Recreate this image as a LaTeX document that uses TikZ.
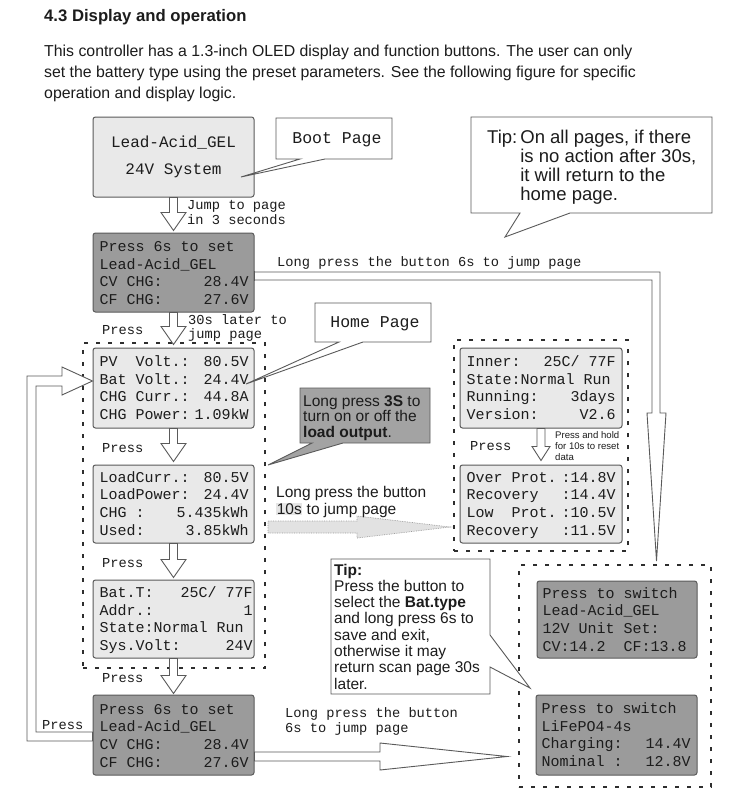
\documentclass[tikz,border=0pt]{standalone}
\usepackage{fontspec}
\setmainfont{Liberation Sans}
\newfontfamily\monof{Liberation Mono}
\usetikzlibrary{calc,fit}
\definecolor{lightbox}{HTML}{E9E9E9}
\definecolor{darkbox}{HTML}{9B9B9B}
\definecolor{tipbox}{HTML}{A3A3A3}
\definecolor{boxline}{HTML}{5A5A5A}
\definecolor{ink}{HTML}{1C1C1C}
\definecolor{dotline}{HTML}{2E2E2E}
\definecolor{grayfill}{HTML}{E2E2E2}
\definecolor{grayedge}{HTML}{9A9A9A}
\definecolor{hl}{HTML}{E6E6E6}
\newcommand\lcdrows[1]{\begin{tabular*}{149pt}[t]{@{}l@{\extracolsep{\fill}}r@{}}#1\end{tabular*}}
\newcommand\full[1]{\multicolumn{2}{@{}l@{}}{#1}}
\newcommand\txtlines[1]{\begin{tabular}[t]{@{}l@{}}#1\end{tabular}}
\begin{document}
\begin{tikzpicture}[x=1pt,y=-1pt,
  lcd/.style={draw=boxline, line width=1pt, rounded corners=2.5pt, inner sep=0pt},
  lcdtext/.style={anchor=base west, inner sep=0pt, text=ink, font=\monof\fontsize{15}{17.7}\selectfont},
  dotbox/.style={draw=dotline, line width=1.8pt, dash pattern=on 4pt off 8pt, inner sep=0pt},
  harrow/.style={draw=boxline, line width=0.9pt, fill=white, line join=miter},
  grayarrow/.style={draw=grayedge, line width=0.7pt, densely dotted, fill=grayfill},
  callout/.style={draw=boxline, line width=0.9pt, fill=white, line join=miter},
  darkcallout/.style={draw=boxline, line width=0.9pt, fill=tipbox, line join=miter},
  mlabel/.style={anchor=base west, inner sep=0pt, text=ink, font=\monof\fontsize{13.7}{14}\selectfont},
  slabel/.style={anchor=base west, inner sep=0pt, text=ink},
  blockarrow/.style n args={3}{to path={
    ($(\tikztostart)!#1!90:(\tikztotarget)$)
    -- ($($(\tikztotarget)!#3!(\tikztostart)$)!#1!-90:(\tikztostart)$)
    -- ($($(\tikztotarget)!#3!(\tikztostart)$)!#2!-90:(\tikztostart)$)
    -- (\tikztotarget)
    -- ($($(\tikztotarget)!#3!(\tikztostart)$)!#2!90:(\tikztostart)$)
    -- ($($(\tikztotarget)!#3!(\tikztostart)$)!#1!90:(\tikztostart)$)
    -- ($(\tikztostart)!#1!-90:(\tikztotarget)$)
    -- cycle}}
]
\useasboundingbox (0,0) rectangle (729,803);
\fill[white] (0,0) rectangle (729,803);

% heading and paragraph
\node[slabel, font=\bfseries\fontsize{16.7}{18}\selectfont] (head) at (44,21) {4.3 Display and operation};
\node[slabel, font=\fontsize{15.85}{21}\selectfont] (intro) at (44,56) {\txtlines{This controller has a 1.3-inch OLED display and function buttons. The user can only\\set the battery type using the preset parameters. See the following figure for specific\\operation and display logic.}};

% dotted groups
\node[dotbox, fit={(83,343)(265,668)}] (lbox) {};
\node[dotbox, fit={(454,340)(628,551)}] (rtbox) {};
\node[dotbox, fit={(519,565)(711,787)}] (rbbox) {};

% display boxes
\node[lcd, fill=lightbox, fit={(93,117)(254,197)}] (boot) {};
\node[lcd, fill=darkbox, fit={(93,233)(254,312)}] (set1) {};
\node[lcd, fill=lightbox, fit={(93,348)(254,428)}] (home) {};
\node[lcd, fill=lightbox, fit={(93,465)(254,543)}] (load) {};
\node[lcd, fill=lightbox, fit={(93,580)(254,658)}] (bat) {};
\node[lcd, fill=darkbox, fit={(93,695)(254,775)}] (set2) {};
\node[lcd, fill=lightbox, fit={(460,348)(622,428)}] (inner) {};
\node[lcd, fill=lightbox, fit={(460,465)(622,543)}] (prot) {};
\node[lcd, fill=darkbox, fit={(537,581)(697,658)}] (sw1) {};
\node[lcd, fill=darkbox, fit={(536,695)(697,775)}] (sw2) {};

\node[anchor=base, inner sep=0pt, text=ink, font=\monof\fontsize{16}{27}\selectfont] (boottxt) at ($(boot.north)+(0,31)$) {\begin{tabular}[t]{@{}c@{}}Lead-Acid\_GEL\\24V System\end{tabular}};
\node[lcdtext] (set1txt) at ($(set1.north west)+(7,19)$) {\lcdrows{\full{Press~6s~to~set}\\\full{Lead-Acid\_GEL}\\CV~CHG:&28.4V\\CF~CHG:&27.6V}};
\node[lcdtext] (hometxt) at ($(home.north west)+(7,19)$) {\lcdrows{PV~~Volt.:&80.5V\\Bat~Volt.:&24.4V\\CHG~Curr.:&44.8A\\CHG~Power:&1.09kW}};
\node[lcdtext] (loadtxt) at ($(load.north west)+(7,17.5)$) {\lcdrows{LoadCurr.:&80.5V\\LoadPower:&24.4V\\\full{CHG~:\hfill 5.435kWh}\\\full{Used:\hfill 3.85kWh}}};
\node[lcdtext] (battxt) at ($(bat.north west)+(7,18)$) {\lcdrows{Bat.T:&25C/~77F\\Addr.:&1\\\full{State:Normal~Run}\\Sys.Volt:&24V}};
\node[lcdtext] (set2txt) at ($(set2.north west)+(7,19.5)$) {\lcdrows{\full{Press~6s~to~set}\\\full{Lead-Acid\_GEL}\\CV~CHG:&28.4V\\CF~CHG:&27.6V}};
\node[lcdtext] (innertxt) at ($(inner.north west)+(7,19)$) {\lcdrows{Inner:&25C/~77F\\\full{State:Normal~Run}\\Running:&3days\\Version:&V2.6}};
\node[lcdtext] (prottxt) at ($(prot.north west)+(7,17.5)$) {\lcdrows{Over~Prot.&:14.8V\\Recovery&:14.4V\\Low~~Prot.&:10.5V\\Recovery&:11.5V}};
\node[lcdtext] (sw1txt) at ($(sw1.north west)+(6,17.5)$) {\lcdrows{\full{Press~to~switch}\\\full{Lead-Acid\_GEL}\\\full{12V~Unit~Set:}\\\full{CV:14.2~~CF:13.8}}};
\node[lcdtext] (sw2txt) at ($(sw2.north west)+(6,19)$) {\lcdrows{\full{Press~to~switch}\\\full{LiFePO4-4s}\\Charging:&14.4V\\Nominal~:&12.8V}};

% straight hollow arrows
\coordinate (a1e) at ($(set1.north)+(0,-2)$);
\coordinate (a2e) at ($(home.north)+(0,-3)$);
\coordinate (a3e) at ($(load.north)+(0,-3)$);
\coordinate (a4e) at ($(bat.north)+(0,-2)$);
\coordinate (a5e) at ($(set2.north)+(0,-1)$);
\coordinate (a6e) at ($(prot.north)+(0,-4)$);
\draw[harrow] (boot.south) to[blockarrow={4pt}{12.5pt}{18pt}] (a1e);
\draw[harrow] (set1.south) to[blockarrow={4pt}{12.5pt}{18pt}] (a2e);
\draw[harrow] (home.south) to[blockarrow={4pt}{12.5pt}{18pt}] (a3e);
\draw[harrow] (load.south) to[blockarrow={4pt}{12.5pt}{18pt}] (a4e);
\draw[harrow] (bat.south) to[blockarrow={4pt}{12.5pt}{18pt}] (a5e);
\draw[harrow] (inner.south) to[blockarrow={4pt}{9pt}{14pt}] (a6e);

% gray dotted arrow (10 s)
\coordinate (g1) at (268,527);
\coordinate (g2) at (450,527);
\draw[grayarrow] (g1) to[blockarrow={6pt}{11pt}{93pt}] (g2);

% bottom arrow
\coordinate (b1) at (set2.east |- 0,756.5);
\coordinate (b2) at (507,756.5);
\draw[harrow] (b1) to[blockarrow={4.5pt}{13.5pt}{127pt}] (b2);

% long bent arrow top right
\draw[harrow] (set1.east |- 0,280) -- (set1.east |- 0,272) -- (660,272) -- (660,413) -- (666,413) -- (656.5,561) -- (647,413) -- (652,413) -- (652,280) -- cycle;
\draw[boxline, line width=1.2pt] (set1.east |- 0,271) -- (set1.east |- 0,281);

% left loop arrow
\draw[harrow] (set2.west |- 0,732) -- (36,732) -- (36,386) -- (62,386) -- (62,395) -- (home.west |- 0,381) -- (62,367) -- (62,376) -- (27,376) -- (27,741) -- (set2.west |- 0,741) -- cycle;

% callouts
\draw[callout] (276,118) -- (392,118) -- (392,159) -- (325,159) -- (241,177) -- (300,159) -- (276,159) -- cycle;
\node[anchor=base, inner sep=0pt, text=ink, font=\monof\fontsize{16.5}{18}\selectfont] (bootlbl) at (337,143) {Boot Page};

\draw[callout] (315,303) -- (431,303) -- (431,342) -- (363,342) -- (246,384) -- (339,342) -- (315,342) -- cycle;
\node[anchor=base, inner sep=0pt, text=ink, font=\monof\fontsize{16.5}{18}\selectfont] (homelbl) at (375,327.5) {Home Page};

\draw[callout] (471,117) -- (712,117) -- (712,213) -- (570,213) -- (505,237) -- (520,213) -- (471,213) -- cycle;
\node[slabel, font=\fontsize{18.5}{19.3}\selectfont] (tiptop) at (487,143) {\begin{tabular}[t]{@{}l@{\hspace{3pt}}l@{}}Tip:&On all pages, if there\\&is no action after 30s,\\&it will return to the\\&home page.\end{tabular}};

\draw[darkcallout] (300,388) -- (430,388) -- (430,443) -- (343,443) -- (268,465) -- (312,443) -- (300,443) -- cycle;
\node[slabel, font=\fontsize{15.5}{15.8}\selectfont] (loadtip) at (303,406) {\txtlines{Long press \textbf{3S} to\\turn on or off the\\\textbf{load output}.}};

\draw[callout] (331,559) -- (490,559) -- (490,635) -- (530,688) -- (490,667) -- (490,694) -- (331,694) -- cycle;
\node[slabel, font=\fontsize{15.5}{16.3}\selectfont] (battip) at (334,575) {\txtlines{\textbf{Tip:}\\Press the button to\\select the \textbf{Bat.type}\\and long press 6s to\\save and exit,\\otherwise it may\\return scan page 30s\\later.}};

% connector labels
\node[mlabel] (l1a) at (187,209) {Jump to page};
\node[mlabel] (l1b) at (187,224) {in 3 seconds};
\node[mlabel] (l2a) at (188,324) {30s later to};
\node[mlabel] (l2b) at (188,338) {jump page};
\node[mlabel] (p1) at (102,334) {Press};
\node[mlabel] (p2) at (102,452) {Press};
\node[mlabel] (p3) at (102,567) {Press};
\node[mlabel] (p4) at (102,682) {Press};
\node[mlabel] (p5) at (470,450) {Press};
\node[mlabel] (p6) at (42,729) {Press};
\node[mlabel] (ltop) at (277,266) {Long press the button 6s to jump page};
\node[mlabel] (lbot1) at (285,717) {Long press the button};
\node[mlabel] (lbot2) at (285,732) {6s to jump page};
\node[slabel, font=\fontsize{15.5}{17}\selectfont] (graylbl) at (276,497) {\txtlines{Long press the button\\{\setlength{\fboxsep}{0.6pt}\colorbox{hl}{10s}} to jump page}};
\node[slabel, font=\fontsize{9.6}{11}\selectfont] (holdlbl) at (555,438) {\txtlines{Press and hold\\for 10s to reset\\data}};
\end{tikzpicture}
\end{document}
